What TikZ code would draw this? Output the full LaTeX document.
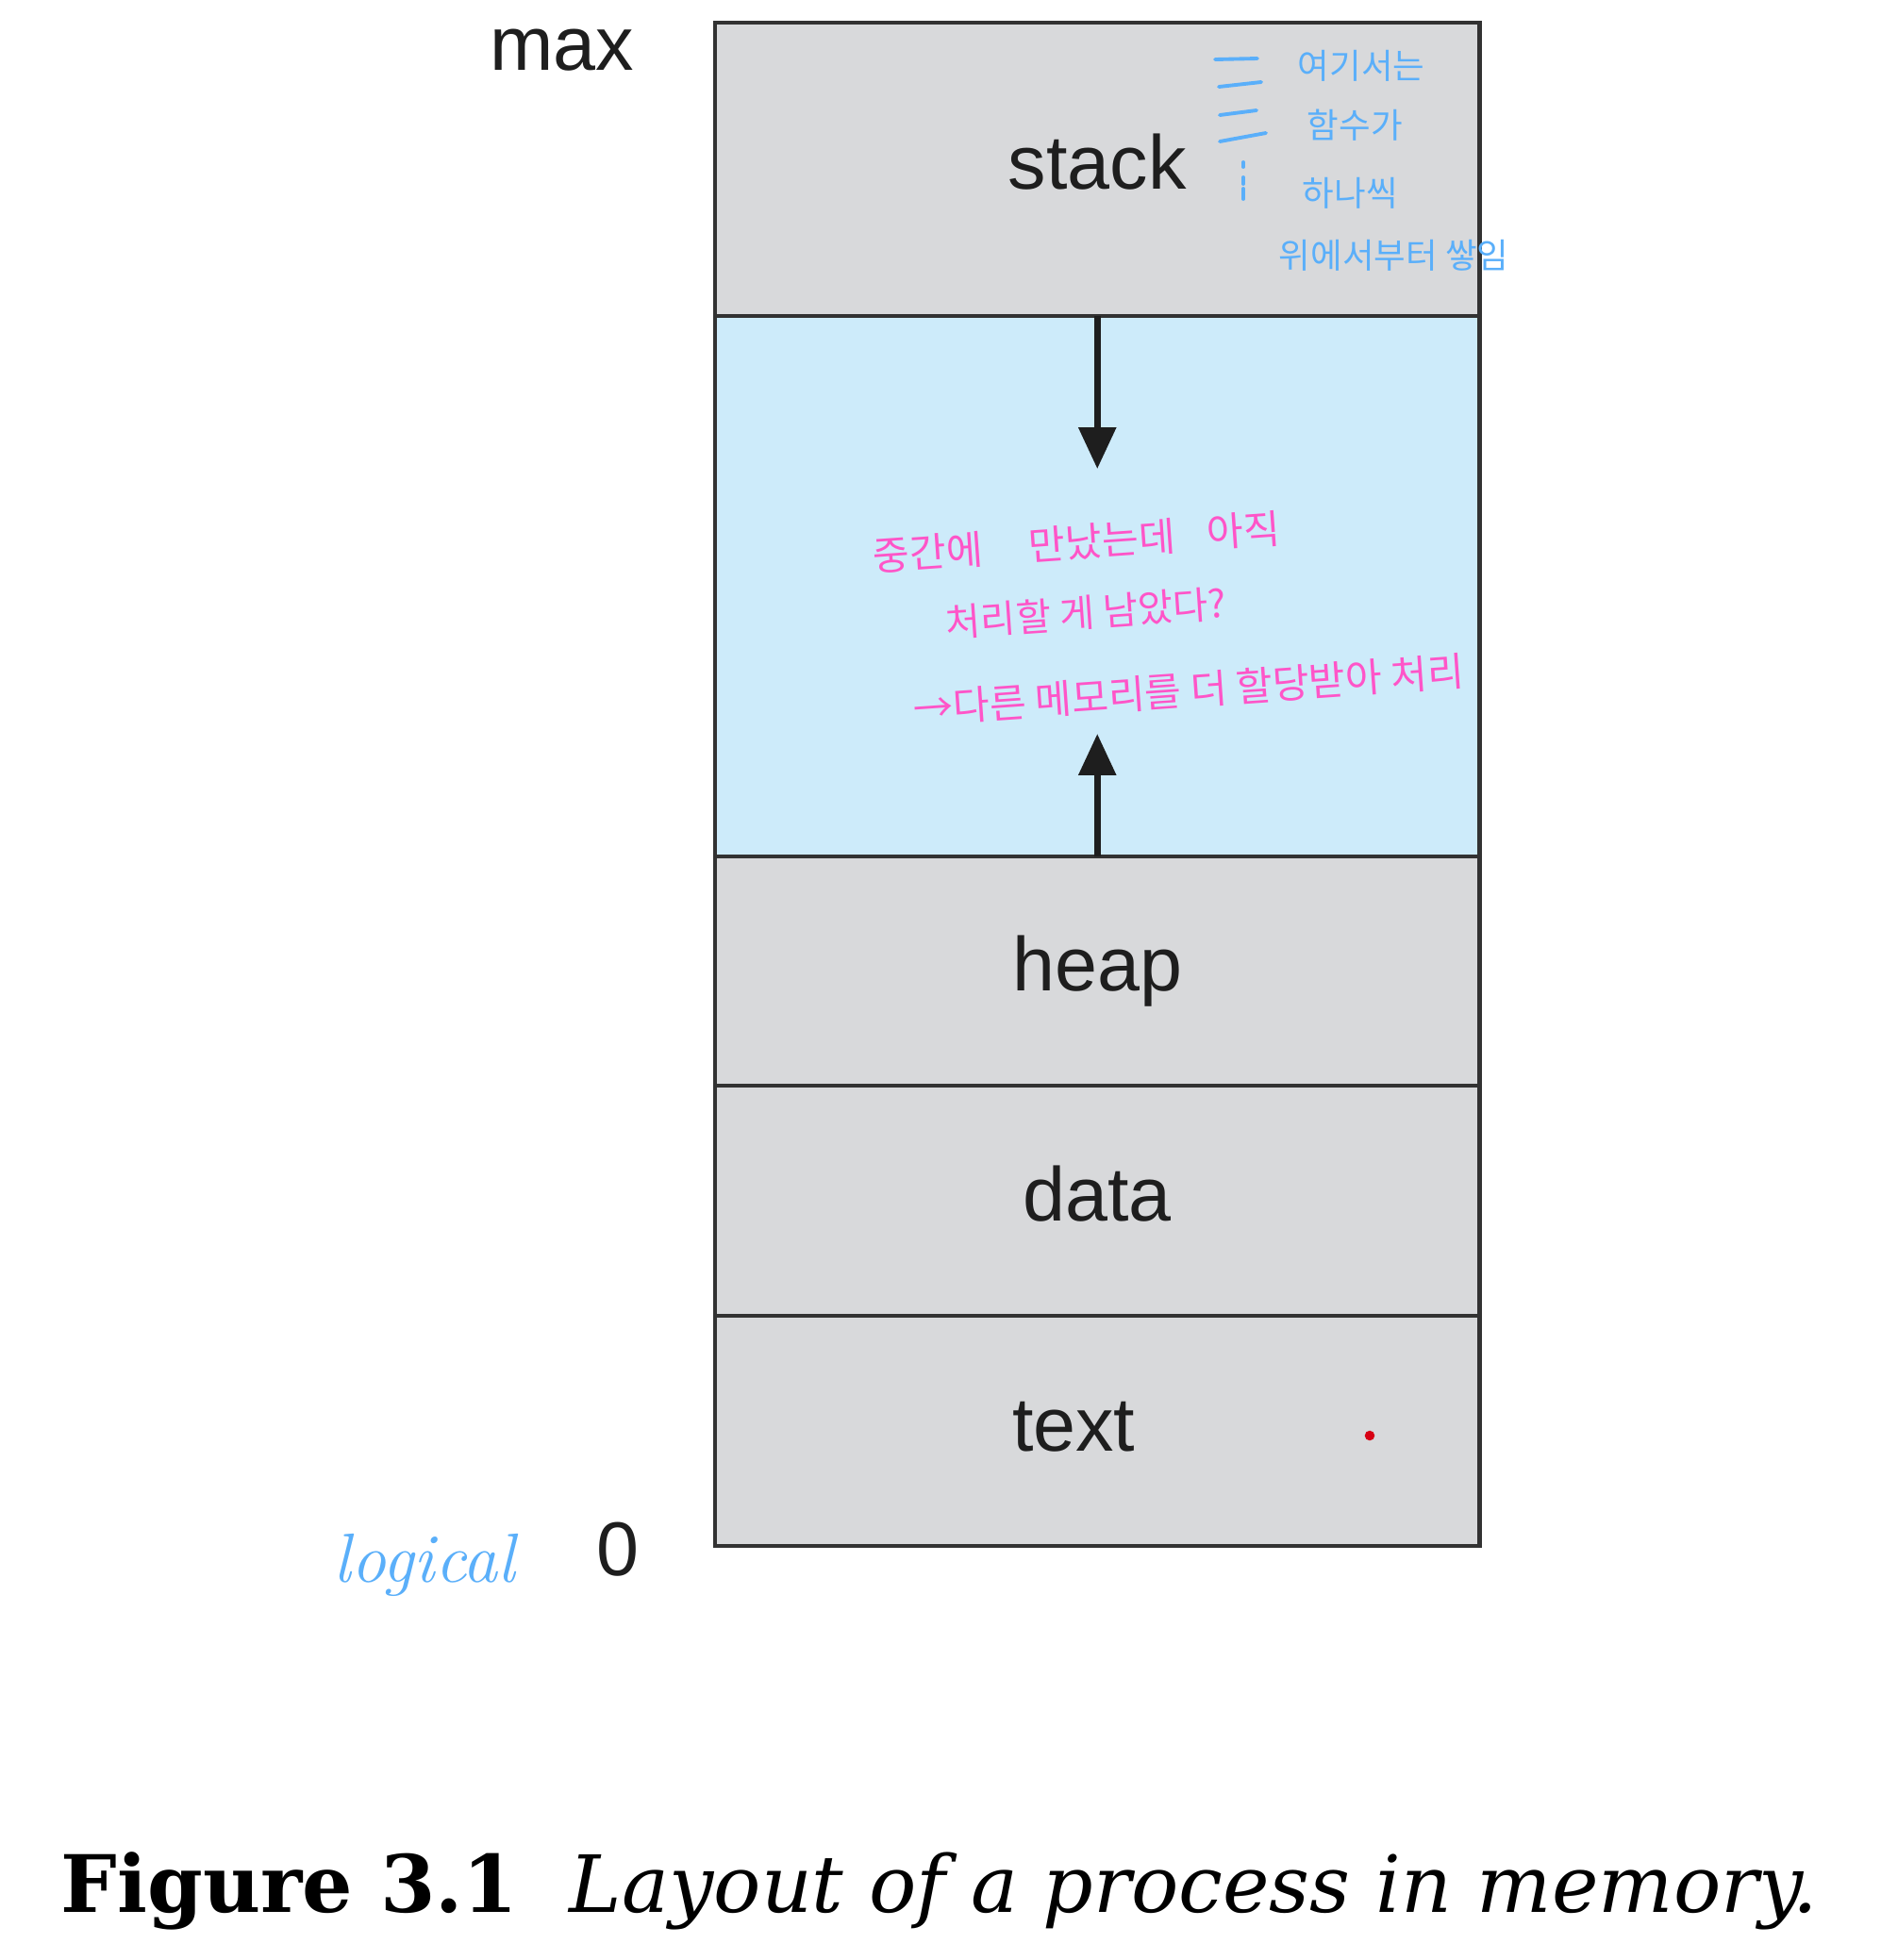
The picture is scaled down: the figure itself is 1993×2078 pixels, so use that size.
\documentclass[tikz,border=0pt]{standalone}
\usepackage{fontspec}
\setmainfont{Liberation Sans}
\newfontfamily\capfont{DejaVu Serif}
\newfontfamily\krfont{Noto Sans CJK KR}
\newfontfamily\logicfont{Latin Modern Roman}
\usetikzlibrary{arrows.meta}
\definecolor{segGray}{RGB}{216,217,219}
\definecolor{freeBlue}{RGB}{205,235,250}
\definecolor{edgeGray}{RGB}{50,50,50}
\definecolor{inkBlue}{RGB}{90,175,250}
\definecolor{inkPink}{RGB}{255,85,200}
\definecolor{dotRed}{RGB}{215,0,20}
\definecolor{labelInk}{RGB}{30,30,30}
\tikzset{
  seg/.style={draw=edgeGray, line width=1.2pt, fill=segGray, minimum width=8.1cm,
    inner sep=0pt, outer sep=0pt, anchor=north west, text=labelInk, font=\fontsize{23}{23}\selectfont},
  growarrow/.style={line width=2pt, draw=labelInk, -{Triangle[width=11pt,length=12.5pt]}},
  sidelabel/.style={inner sep=0pt, text=labelInk, font=\fontsize{23}{23}\selectfont},
  bluenote/.style={inner sep=0pt, anchor=west, text=inkBlue, font=\krfont\fontsize{10.4}{11}\selectfont},
  pinknote/.style={inner sep=0pt, anchor=west, text=inkPink, rotate=4, font=\krfont\fontsize{12}{13}\selectfont},
  bluestroke/.style={draw=inkBlue, line width=1.1pt, line cap=round},
}
\begin{document}
\begin{tikzpicture}[x=0.01cm, y=-0.01cm]
\useasboundingbox (0,0) rectangle (1993,2078);
\fill[white] (0,0) rectangle (1993,2078);
% memory segments
\node[seg, minimum height=3.11cm, text depth=0.16cm] (stack) at (758,24) {stack};
\node[seg, minimum height=5.73cm, fill=freeBlue] (free) at (758,335) {};
\node[seg, minimum height=2.43cm] (heap) at (758,908) {heap};
\node[seg, minimum height=2.44cm, text depth=0.16cm] (data) at (758,1151) {data};
\node[seg, minimum height=2.44cm, text depth=0.1cm] (text) at (758,1395) {text\rule{0.5cm}{0pt}};
% growth arrows
\coordinate (tipdown) at (1163,497);
\coordinate (tipup) at (1163,778);
\draw[growarrow] (stack.south) -- (stack.south |- tipdown);
\draw[growarrow] (heap.north) -- (heap.north |- tipup);
% side labels
\node[sidelabel] (maxlbl) at (596,53) {max};
\node[sidelabel] (zerolbl) at (655,1643) {0};
% red dot
\node[circle, fill=dotRed, inner sep=0pt, minimum size=3pt] (reddot) at (1452,1522) {};
% blue handwritten notes
\node[bluenote] (b1) at (1375,70) {여기서는};
\node[bluenote] (b2) at (1385,133) {함수가};
\node[bluenote] (b3) at (1380,205) {하나씩};
\node[bluenote] (b4) at (1355,271) {위에서부터 쌓임};
\draw[bluestroke] (1288,63) -- (1333,62);
\draw[bluestroke] (1292,92) -- (1337,87);
\draw[bluestroke] (1293,122) -- (1332,117);
\draw[bluestroke] (1293,150) -- (1342,141);
\draw[bluestroke] (1318,172) -- (1318,177);
\draw[bluestroke] (1318,188) -- (1318,195);
\draw[bluestroke] (1318,200) -- (1318,211);
\node[inner sep=0pt, anchor=base, text=inkBlue, font=\logicfont\itshape\fontsize{21}{21}\selectfont] (logic) at (450,1677) {logical};
% pink handwritten notes
\node[pinknote] (p1) at (925,590) {중간에\hspace{0.49cm}만났는데\hspace{0.34cm}아직};
\node[pinknote, font=\krfont\fontsize{11.5}{13}\selectfont] (p2) at (1002,660) {처리할 게 남았다?};
\node[pinknote] (p3) at (968,752) {→다른 메모리를 더 할당받아 처리};
% caption
\node[inner sep=0pt, anchor=base west, font=\capfont\bfseries\fontsize{23.9}{24}\selectfont] (capA) at (64,2027) {Figure 3.1};
\node[inner sep=0pt, anchor=base east, font=\capfont\itshape\fontsize{23.8}{24}\selectfont] (capB) at (1928,2027) {Layout of a process in memory.};
\end{tikzpicture}
\end{document}
